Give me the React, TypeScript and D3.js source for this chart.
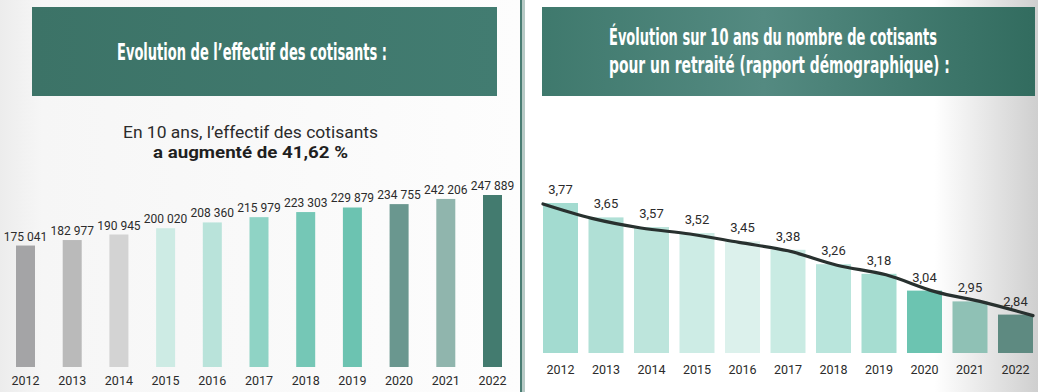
import { useRef, useEffect } from "react";
import * as d3 from "d3";

const years = ["2012", "2013", "2014", "2015", "2016", "2017", "2018", "2019", "2020", "2021", "2022"];

const cotisants = [175041, 182977, 190945, 200020, 208360, 215979, 223303, 229879, 234755, 242206, 247889];
const cotisantsLabels = ["175 041", "182 977", "190 945", "200 020", "208 360", "215 979", "223 303", "229 879", "234 755", "242 206", "247 889"];
const cotisantsColors = ["#a4a4a6", "#bababa", "#d3d3d3", "#cdebe4", "#b9e3da", "#8fd3c5", "#75c7b6", "#6cc3b1", "#6a978f", "#90b5ad", "#437b6f"];

const rapport = [3.77, 3.65, 3.57, 3.52, 3.45, 3.38, 3.26, 3.18, 3.04, 2.95, 2.84];
const rapportLabels = ["3,77", "3,65", "3,57", "3,52", "3,45", "3,38", "3,26", "3,18", "3,04", "2,95", "2,84"];
const rapportColors = ["#a3dbd0", "#b0e0d6", "#bde5dc", "#cdece5", "#dcf1ec", "#c9ebe3", "#b9e5dc", "#a6ddd1", "#6cc4b1", "#8fc1b5", "#5e8a81"];

const titleLeft = "Evolution de l’effectif des cotisants :";
const titleRight1 = "Évolution sur 10 ans du nombre de cotisants";
const titleRight2 = "pour un retraité (rapport démographique) :";
const subtitle1 = "En 10 ans, l’effectif des cotisants";
const subtitle2 = "a augmenté de 41,62 %";

export default function App() {
  const svgRef = useRef<SVGSVGElement>(null);

  useEffect(() => {
    if (!svgRef.current) return;
    const width = 1038;
    const height = 392;
    const svg = d3.select(svgRef.current);
    svg.selectAll("*").remove();
    svg.attr("width", width).attr("height", height).attr("viewBox", `0 0 ${width} ${height}`);

    const labelFont = "Roboto, 'Liberation Sans', sans-serif";
    const titleFont = "'Liberation Sans Narrow', 'DejaVu Sans Condensed', sans-serif";

    // backgrounds
    const defs = svg.append("defs");
    const bgL = defs.append("linearGradient").attr("id", "bgL").attr("x1", "0%").attr("x2", "100%");
    bgL.append("stop").attr("offset", "0%").attr("stop-color", "#ececec");
    bgL.append("stop").attr("offset", "8%").attr("stop-color", "#f6f6f6");
    bgL.append("stop").attr("offset", "100%").attr("stop-color", "#fdfdfd");
    const bgR = defs.append("linearGradient").attr("id", "bgR").attr("x1", "0%").attr("x2", "100%");
    bgR.append("stop").attr("offset", "0%").attr("stop-color", "#ffffff");
    bgR.append("stop").attr("offset", "80%").attr("stop-color", "#ffffff");
    bgR.append("stop").attr("offset", "100%").attr("stop-color", "#cfcfcf");
    const hdrL = defs.append("linearGradient").attr("id", "hdrL").attr("x1", "0%").attr("x2", "100%");
    hdrL.append("stop").attr("offset", "0%").attr("stop-color", "#3c7367");
    hdrL.append("stop").attr("offset", "100%").attr("stop-color", "#427c71");
    const hdrR = defs.append("linearGradient").attr("id", "hdrR").attr("x1", "0%").attr("x2", "100%");
    hdrR.append("stop").attr("offset", "0%").attr("stop-color", "#3f796d");
    hdrR.append("stop").attr("offset", "45%").attr("stop-color", "#548a81");
    hdrR.append("stop").attr("offset", "100%").attr("stop-color", "#326c5f");

    svg.append("rect").attr("x", 0).attr("y", 0).attr("width", 520).attr("height", height).attr("fill", "url(#bgL)");
    svg.append("rect").attr("x", 520).attr("y", 0).attr("width", 518).attr("height", height).attr("fill", "url(#bgR)");
    svg.append("rect").attr("x", 520).attr("y", 0).attr("width", 2).attr("height", height).attr("fill", "#4a7d73");
    svg.append("rect").attr("x", 522).attr("y", 0).attr("width", 3).attr("height", height).attr("fill", "#b7c9c5");

    // headers
    svg.append("rect").attr("x", 32).attr("y", 7).attr("width", 465).attr("height", 89).attr("fill", "url(#hdrL)");
    svg.append("rect").attr("x", 542).attr("y", 7).attr("width", 493).attr("height", 89).attr("fill", "url(#hdrR)");

    // condensed titles: squeeze horizontally to the measured width
    const fitTitle = (txt: string, x: number, y: number, w: number) => {
      const g = svg.append("g");
      const t = g.append("text")
        .attr("x", 0).attr("y", 0)
        .attr("fill", "#ffffff").attr("font-family", titleFont).attr("font-weight", "bold").attr("font-size", 23)
        .text(txt);
      const natural = (t.node() as SVGTextElement).getComputedTextLength() || w;
      g.attr("transform", `translate(${x},${y}) scale(${w / natural},1)`);
    };
    fitTitle(titleLeft, 117, 60, 270);
    fitTitle(titleRight1, 609, 45, 328);
    fitTitle(titleRight2, 609, 73, 341);

    // subtitle
    svg.append("text")
      .attr("x", 123).attr("y", 138)
      .attr("fill", "#2b2b2b").attr("font-family", labelFont).attr("font-size", 16)
      .attr("textLength", 255).attr("lengthAdjust", "spacingAndGlyphs")
      .text(subtitle1);
    svg.append("text")
      .attr("x", 153).attr("y", 158)
      .attr("fill", "#1f1f1f").attr("font-family", labelFont).attr("font-weight", "bold").attr("font-size", 16.5)
      .attr("textLength", 195).attr("lengthAdjust", "spacingAndGlyphs")
      .text(subtitle2);

    // left chart
    const xL = d3.scalePoint<string>().domain(years).range([25.5, 492.5]);
    const yL = d3.scaleLinear().domain([0, 247889]).range([367, 195]);
    const bwL = 19;
    const gL = svg.append("g");
    gL.selectAll("rect.bar")
      .data(cotisants)
      .join("rect")
      .attr("class", "bar")
      .attr("x", (_, i) => (xL(years[i]) ?? 0) - bwL / 2)
      .attr("y", (d) => yL(d))
      .attr("width", bwL)
      .attr("height", (d) => yL(0) - yL(d))
      .attr("fill", (_, i) => cotisantsColors[i]);
    gL.selectAll("text.val")
      .data(cotisants)
      .join("text")
      .attr("class", "val")
      .attr("x", (_, i) => xL(years[i]) ?? 0)
      .attr("y", (d) => yL(d) - 5)
      .attr("text-anchor", "middle")
      .attr("font-family", labelFont).attr("font-size", 12).attr("fill", "#2b2b2b")
      .text((_, i) => cotisantsLabels[i]);
    gL.selectAll("text.yr")
      .data(years)
      .join("text")
      .attr("class", "yr")
      .attr("x", (d) => xL(d) ?? 0)
      .attr("y", 385)
      .attr("text-anchor", "middle")
      .attr("font-family", labelFont).attr("font-size", 12.5).attr("fill", "#2b2b2b")
      .text((d) => d);

    // right chart
    const xR = d3.scalePoint<string>().domain(years).range([560.5, 1015.5]);
    const xLine = d3.scalePoint<string>().domain(years).range([543, 1033]);
    const yR = d3.scaleLinear().domain([2.52, 3.77]).range([353, 203]);
    const bwR = 35;
    const gR = svg.append("g");
    gR.selectAll("rect.bar")
      .data(rapport)
      .join("rect")
      .attr("class", "bar")
      .attr("x", (_, i) => (xR(years[i]) ?? 0) - bwR / 2)
      .attr("y", (d) => yR(d))
      .attr("width", bwR)
      .attr("height", (d) => yR(2.52) - yR(d))
      .attr("fill", (_, i) => rapportColors[i]);

    const line = d3
      .line<number>()
      .x((_, i) => xLine(years[i]) ?? 0)
      .y((d) => yR(d) + 1)
      .curve(d3.curveMonotoneX);
    gR.append("path")
      .datum(rapport)
      .attr("fill", "none")
      .attr("stroke", "#28312f")
      .attr("stroke-width", 3.2)
      .attr("stroke-linecap", "round")
      .attr("d", line);

    gR.selectAll("text.val")
      .data(rapport)
      .join("text")
      .attr("class", "val")
      .attr("x", (_, i) => xR(years[i]) ?? 0)
      .attr("y", (d) => yR(d) - 9)
      .attr("text-anchor", "middle")
      .attr("font-family", labelFont).attr("font-size", 13).attr("fill", "#2b2b2b")
      .text((_, i) => rapportLabels[i]);
    gR.selectAll("text.yr")
      .data(years)
      .join("text")
      .attr("class", "yr")
      .attr("x", (d) => xR(d) ?? 0)
      .attr("y", 374)
      .attr("text-anchor", "middle")
      .attr("font-family", labelFont).attr("font-size", 12.5).attr("fill", "#2b2b2b")
      .text((d) => d);
  }, []);

  return <svg ref={svgRef} style={{ position: "absolute", left: 0, top: 0, display: "block" }} />;
}
